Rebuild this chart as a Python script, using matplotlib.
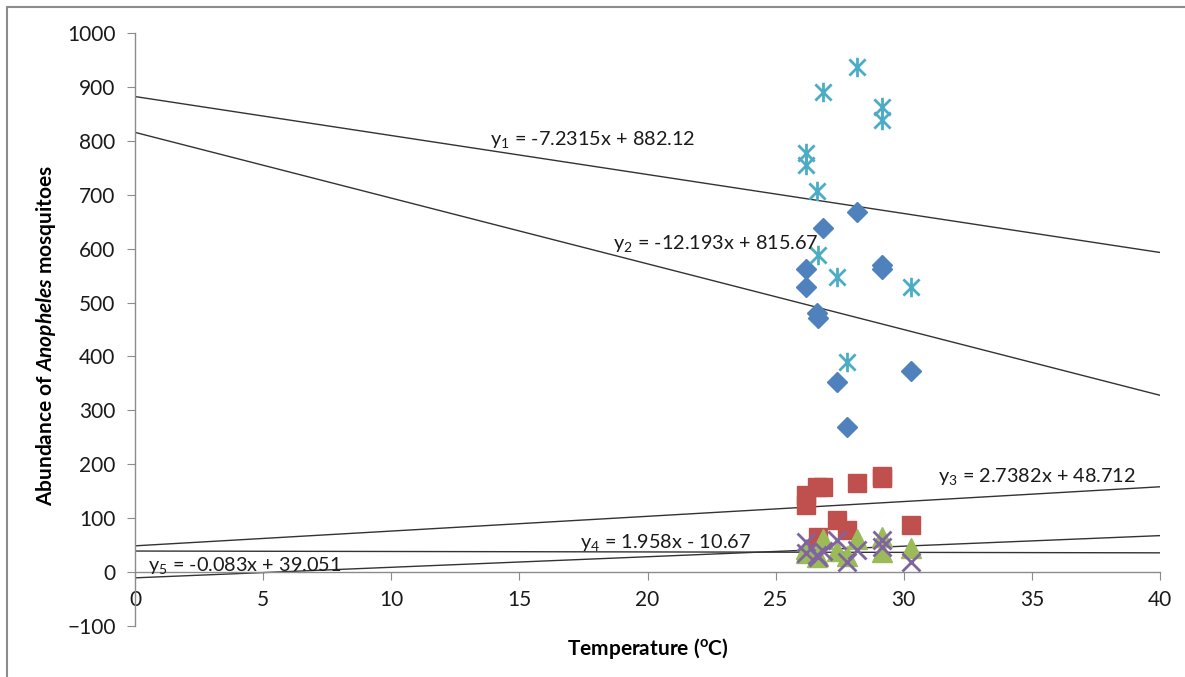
import matplotlib
matplotlib.use("Agg")
import matplotlib.pyplot as plt
import numpy as np
from matplotlib.path import Path
from matplotlib.patches import Rectangle

plt.rcParams['font.family'] = ['Lato', 'DejaVu Sans']
plt.rcParams['mathtext.fontset'] = 'custom'
plt.rcParams['mathtext.rm'] = 'Lato'
plt.rcParams['mathtext.bf'] = 'Lato:bold'
plt.rcParams['mathtext.it'] = 'Lato:italic:bold'
plt.rcParams['mathtext.default'] = 'rm'

# Temperature (x) shared by all series
temp = [26.17, 26.17, 26.6, 26.67, 26.86, 27.38, 27.77, 28.16, 29.14, 29.14, 30.27]

# Series values (abundance)
diamond_vals = [562, 529, 480, 471, 638, 353, 270, 668, 570, 563, 373]    # blue diamonds
square_vals = [143, 124, 158, 66, 158, 96, 78, 165, 178, 175, 87]         # red squares
triangle_vals = [35, 42, 28, 30, 62, 40, 30, 62, 65, 38, 44]              # green triangles
cross_vals = [56, 35, 32, 28, 40, 59, 19, 41, 59, 47, 19]                 # purple crosses
star_vals = [777, 755, 706, 588, 891, 547, 390, 937, 863, 839, 528]       # cyan asterisks

# Trendlines: (slope, intercept, label)
trend_coefs = [(-7.2315, 882.12), (-12.193, 815.67), (2.7382, 48.712), (1.958, -10.67), (-0.083, 39.051)]
trend_labels = ["y$_1$ = -7.2315x + 882.12", "y$_2$ = -12.193x + 815.67",
                "y$_3$ = 2.7382x + 48.712", "y$_4$ = 1.958x - 10.67",
                "y$_5$ = -0.083x + 39.051"]
label_pos = [(13.85, 803), (18.65, 610), (31.34, 178), (17.37, 54), (0.5, 13)]

x_ticks = list(range(0, 41, 5))
y_ticks = list(range(-100, 1001, 100))

fig = plt.figure(figsize=(11.85, 6.77), dpi=100)
ax_bottom = 1 - 626/677
ax_height = (626 - 33)/677
ax = fig.add_axes([135/1185, ax_bottom, 1025/1185, ax_height])

# outer frame
fig.patches.append(Rectangle((7/1185, -0.05), 1.1, 1-7/677+0.05, transform=fig.transFigure,
                             fill=False, edgecolor='#8c8c8c', linewidth=1.5))

star = Path([(-1, -1), (1, 1), (-1, 1), (1, -1), (0, -1.2), (0, 1.2)],
            [Path.MOVETO, Path.LINETO, Path.MOVETO, Path.LINETO, Path.MOVETO, Path.LINETO])

ax.plot(temp, diamond_vals, linestyle='none', marker='D', ms=10, color='#4f81bd', zorder=3)
ax.plot(temp, square_vals, linestyle='none', marker='s', ms=13, color='#c0504d', zorder=3)
ax.plot(temp, triangle_vals, linestyle='none', marker='^', ms=14, color='#9bbb59', zorder=3)
ax.plot(temp, cross_vals, linestyle='none', marker='x', ms=13, mew=2, color='#8064a2', zorder=3)
ax.plot(temp, star_vals, linestyle='none', marker=star, ms=14, mew=2, color='#4bacc6', zorder=3)

xs = np.array([0, 40])
for (m, b), lab, (lx, ly) in zip(trend_coefs, trend_labels, label_pos):
    ax.plot(xs, m * xs + b, color='#333333', lw=1.0, zorder=2)
    ax.text(lx, ly, lab, fontsize=14.3, color='#1a1a1a', ha='left', va='center', zorder=4)

ax.set_xlim(0, 40)
ax.set_ylim(-100, 1000)
ax.set_xticks(x_ticks)
ax.set_yticks(y_ticks)
for s in ['top', 'right']:
    ax.spines[s].set_visible(False)
ax.spines['bottom'].set_position(('data', 0))
for s in ['left', 'bottom']:
    ax.spines[s].set_color('#8c8c8c')
    ax.spines[s].set_linewidth(1.0)
ax.tick_params(axis='both', direction='out', length=6, color='#8c8c8c', labelsize=15,
               labelcolor='#1a1a1a')
ax.tick_params(axis='x', pad=7)
ax.tick_params(axis='y', pad=8)
ax.set_facecolor('none')

ax.set_xlabel("Temperature ($^\\mathbf{o}$C)", fontsize=15, fontweight='bold')
ax.xaxis.set_label_coords(0.5, ((677-636)/677 - ax_bottom) / ax_height)
ax.set_ylabel("Abundance of $\\mathit{Anopheles}$ mosquitoes", fontsize=15, fontweight='bold')
ax.yaxis.set_label_coords((58-135)/1025, 0.49)

fig.savefig("out.png", dpi=100)
